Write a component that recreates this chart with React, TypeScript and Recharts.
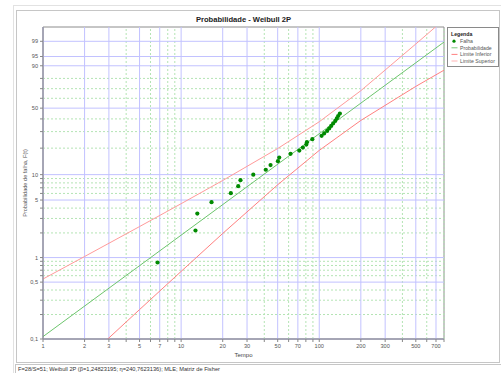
import {
  ComposedChart,
  Scatter,
  Line,
  XAxis,
  YAxis,
  ReferenceLine,
  ReferenceArea,
  Legend,
  Label,
} from "recharts";

// falhas (tempo, % de falha)
const failTime = [
  6.75, 12.7, 13.1, 16.6, 22.9, 25.9, 26.9, 33.3, 41.0, 44.4, 50.2, 51.3, 62.0, 71.7,
  76.1, 80.6, 81.4, 89.1, 104, 108.5, 114, 118, 122, 126, 130.5, 134, 137, 141,
];
const failPct = [
  0.87, 2.14, 3.44, 4.72, 6.04, 7.32, 8.61, 10.0, 11.4, 12.9, 14.3, 15.7, 17.3, 18.8,
  20.3, 21.9, 23.2, 25.0, 27.1, 28.7, 30.5, 32.3, 34.2, 36.2, 38.3, 40.4, 42.6, 44.8,
];

const lineTime = [1, 800];
const linePct = [0.107, 98.9];

const boundTime = [1, 2, 5, 10, 20, 50, 100, 200, 500, 800];
const lowerPct = [0.0183, 0.0545, 0.23, 0.677, 1.97, 7.6, 18.9, 38.7, 72.3, 86.9];
const upperPct = [0.546, 1.03, 2.39, 4.52, 8.54, 19.8, 37.6, 67.9, 98.6, 99.98];

const xMajor = [1, 2, 3, 5, 7, 10, 20, 30, 50, 70, 100, 200, 300, 500, 700];
const xMinor = [4, 6, 8, 9, 40, 60, 80, 90, 400, 600, 800];
const yMajor = [0.1, 0.5, 1, 5, 10, 50, 90, 95, 99];
const yMinor = [0.2, 0.3, 0.4, 0.6, 0.7, 0.8, 0.9, 2, 3, 4, 6, 7, 8, 9, 20, 30, 40, 60, 70, 80];

const FONT = "'Liberation Sans', Arial, sans-serif";
const BLUE = "#c2c2ff";
const GREEN_GRID = "#b4e4b4";

// escala Weibull: ln(-ln(1-F))
const weib = (pct: number) => Math.log(-Math.log(1 - pct / 100));
const yMin = weib(0.1);
const yMax = weib(99.9);

const toRows = (ts: number[], ps: number[]) => ts.map((t, i) => ({ t, z: weib(ps[i]) }));
const failData = toRows(failTime, failPct);
const lineData = toRows(lineTime, linePct);
const lowerData = toRows(boundTime, lowerPct);
const upperData = toRows(boundTime, upperPct);

const xTicks = [...xMajor, ...xMinor].sort((a, b) => a - b);
const yTicks = [...yMajor, ...yMinor].sort((a, b) => a - b).map(weib);

const XTick = (props: any) => {
  const { x, y, payload } = props;
  if (!xMajor.includes(payload.value)) return <g />;
  return (
    <text x={x} y={y} dy="0.71em" textAnchor="middle" fontSize={5.6} fontFamily={FONT} fill="#555">
      {payload.value}
    </text>
  );
};

const YTick = (props: any) => {
  const { x, y, payload } = props;
  const m = yMajor.find((p) => Math.abs(weib(p) - payload.value) < 1e-9);
  if (m === undefined) return <g />;
  return (
    <text x={x} y={y} dy="0.35em" textAnchor="end" fontSize={5.6} fontFamily={FONT} fill="#555">
      {String(m).replace(".", ",")}
    </text>
  );
};

const YLabel = (props: any) => {
  const vb = props.viewBox;
  const cx = vb.x + 9;
  const cy = vb.y + vb.height / 2;
  return (
    <text
      x={cx}
      y={cy}
      transform={`rotate(-90 ${cx} ${cy})`}
      textAnchor="middle"
      dominantBaseline="central"
      fontSize={5.6}
      fontFamily={FONT}
      fill="#555"
    >
      Probabilidade de falha, F(t)
    </text>
  );
};

const legendItems = [
  { name: "Falha", color: "#008a00", dot: true },
  { name: "Probabilidade", color: "#6cc46c", dot: false },
  { name: "Limite Inferior", color: "#ff7070", dot: false },
  { name: "Limite Superior", color: "#ffaaaa", dot: false },
];

const renderLegend = () => (
  <svg width={52} height={40} style={{ display: "block" }}>
    <rect x={0.5} y={0.5} width={51} height={39} fill="#fff" stroke="#8a8a8a" />
    <text x={4} y={8.5} fontSize={5.2} fontWeight="bold" fontFamily={FONT} fill="#222">
      Legenda
    </text>
    {legendItems.map((it, i) => {
      const y = 14.2 + i * 6.6;
      return (
        <g key={it.name}>
          {it.dot ? (
            <circle cx={7} cy={y} r={1.6} fill={it.color} />
          ) : (
            <line x1={4.5} x2={10.5} y1={y} y2={y} stroke={it.color} strokeWidth={0.9} />
          )}
          <text x={13} y={y} dy="0.35em" fontSize={5.2} fontFamily={FONT} fill="#555">
            {it.name}
          </text>
        </g>
      );
    })}
  </svg>
);

export default function App() {
  return (
    <div style={{ position: "absolute", left: 0, top: 0, width: 501, height: 373, overflow: "hidden", background: "#fff" }}>
      <div style={{ position: "absolute", left: 13, top: 5, width: 500, height: 380, border: "1px solid #e2e2e2" }} />
      <div style={{ position: "absolute", left: 16, top: 10, width: 482, height: 351, border: "1px solid #c6c6c6" }} />
      <div
        style={{
          position: "absolute",
          left: 15,
          top: 364,
          width: 500,
          height: 12,
          border: "1px solid #c6c6c6",
          fontFamily: FONT,
          fontSize: 5.7,
          color: "#333",
          lineHeight: "9px",
          paddingLeft: 2,
          whiteSpace: "nowrap",
        }}
      >
        F=28/S=51; Weibull 2P (β=1,24823195; η=240,7623136); MLE; Matriz de Fisher
      </div>
      <div
        style={{
          position: "absolute",
          left: 43,
          width: 401,
          top: 15,
          textAlign: "center",
          fontFamily: FONT,
          fontWeight: "bold",
          fontSize: 7.6,
          color: "#222",
        }}
      >
        Probabilidade - Weibull 2P
      </div>
      <div style={{ position: "absolute", left: 16, top: 10 }}>
        <ComposedChart width={484} height={352} margin={{ top: 17, right: 56, left: 0, bottom: 0 }}>
          <XAxis
            dataKey="t"
            type="number"
            scale="log"
            domain={[1, 800]}
            allowDataOverflow
            ticks={xTicks}
            interval={0}
            height={23}
            tickSize={3}
            tickMargin={2}
            tick={<XTick />}
            tickLine={{ stroke: "#888" }}
            axisLine={{ stroke: "#888" }}
          >
            <Label value="Tempo" position="insideBottom" offset={5} fontSize={6} fontFamily={FONT} fill="#444" />
          </XAxis>
          <YAxis
            dataKey="z"
            type="number"
            domain={[yMin, yMax]}
            allowDataOverflow
            ticks={yTicks}
            interval={0}
            width={27}
            tickSize={3}
            tickMargin={2}
            tick={<YTick />}
            tickLine={{ stroke: "#888" }}
            axisLine={{ stroke: "#888" }}
          >
            <Label content={<YLabel />} />
          </YAxis>
          {xMinor.map((v) => (
            <ReferenceLine key={"xm" + v} x={v} stroke={GREEN_GRID} strokeDasharray="2 2" />
          ))}
          {yMinor.map((v) => (
            <ReferenceLine key={"ym" + v} y={weib(v)} stroke={GREEN_GRID} strokeDasharray="2 2" />
          ))}
          {xMajor.map((v) => (
            <ReferenceLine key={"xM" + v} x={v} stroke={BLUE} />
          ))}
          {yMajor.map((v) => (
            <ReferenceLine key={"yM" + v} y={weib(v)} stroke={BLUE} />
          ))}
          <ReferenceArea x1={1} x2={800} y1={yMin} y2={yMax} fill="none" stroke="#8c8c8c" />
          <Line
            data={upperData}
            dataKey="z"
            name="Limite Superior"
            stroke="#ff9a9a"
            strokeWidth={1}
            dot={false}
            isAnimationActive={false}
          />
          <Line
            data={lowerData}
            dataKey="z"
            name="Limite Inferior"
            stroke="#ff8080"
            strokeWidth={1}
            dot={false}
            isAnimationActive={false}
          />
          <Line
            data={lineData}
            dataKey="z"
            name="Probabilidade"
            stroke="#6cc46c"
            strokeWidth={1}
            dot={false}
            isAnimationActive={false}
          />
          <Scatter
            data={failData}
            dataKey="z"
            name="Falha"
            fill="#008a00"
            isAnimationActive={false}
            shape={(p: any) => <circle cx={p.cx} cy={p.cy} r={2.1} fill="#008a00" />}
          />
          <Legend
            layout="vertical"
            align="center"
            verticalAlign="middle"
            wrapperStyle={{ left: 431, top: 17, width: 52 }}
            content={renderLegend}
          />
        </ComposedChart>
      </div>
    </div>
  );
}
